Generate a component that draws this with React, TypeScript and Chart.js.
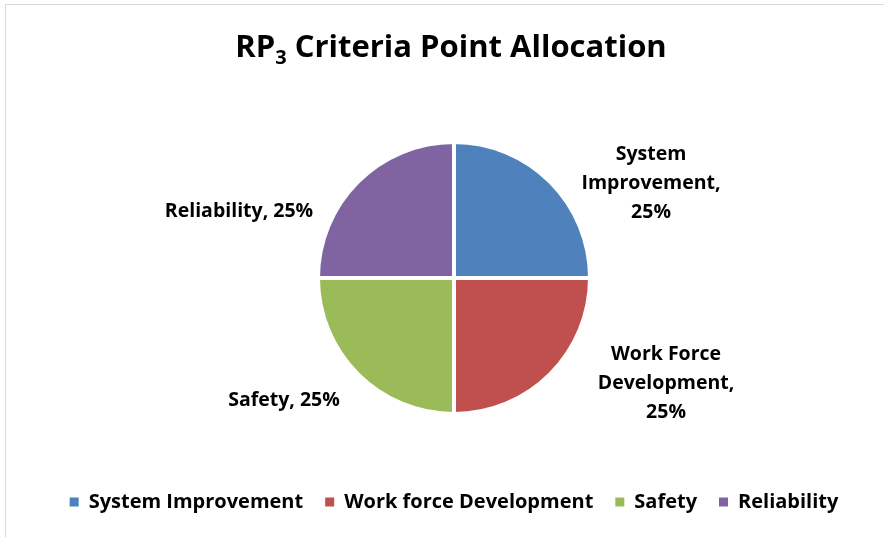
import React, { useEffect, useRef } from "react";
import { Chart, registerables } from "chart.js";

Chart.register(...registerables);

// ---- data ----
const categories = ["System Improvement", "Work force Development", "Safety", "Reliability"];
const labelNames = ["System Improvement", "Work Force Development", "Safety", "Reliability"];
const values = [25, 25, 25, 25];
const colors = ["#4F81BD", "#C0504D", "#9BBB59", "#8064A2"];
const titleMain = "RP";
const titleSub = "3";
const titleRest = " Criteria Point Allocation";

// ---- layout tweaks for outside labels (pixel nudges from the mid-angle anchor) ----
const labelNudges: [number, number][] = [
  [72, 30],
  [87, -20],
  [-45, -3],
  [-90, 58],
];

const FONT = "'Open Sans', Lato, 'DejaVu Sans', sans-serif";

function wrapText(ctx: CanvasRenderingContext2D, text: string, maxW: number): string[] {
  const words = text.split(" ");
  const lines: string[] = [];
  let cur = "";
  for (const w of words) {
    const t = cur ? cur + " " + w : w;
    if (cur && ctx.measureText(t).width > maxW) {
      lines.push(cur);
      cur = w;
    } else cur = t;
  }
  if (cur) lines.push(cur);
  return lines;
}

const titlePlugin = {
  id: "subTitle",
  afterDraw(chart: any) {
    const ctx: CanvasRenderingContext2D = chart.ctx;
    ctx.save();
    const big = `bold 31px ${FONT}`;
    const small = `bold 20px ${FONT}`;
    ctx.font = big;
    const w1 = ctx.measureText(titleMain).width;
    const w3 = ctx.measureText(titleRest).width;
    ctx.font = small;
    const w2 = ctx.measureText(titleSub).width;
    const total = w1 + w2 + w3;
    let x = chart.width / 2 + 9 - total / 2;
    const base = 57;
    ctx.fillStyle = "#000";
    ctx.textBaseline = "alphabetic";
    ctx.textAlign = "left";
    ctx.font = big;
    ctx.fillText(titleMain, x, base);
    x += w1;
    ctx.font = small;
    ctx.fillText(titleSub, x, base + 7);
    x += w2;
    ctx.font = big;
    ctx.fillText(titleRest, x, base);
    ctx.restore();
  },
};

const labelPlugin = {
  id: "outLabels",
  afterDatasetsDraw(chart: any) {
    const ctx: CanvasRenderingContext2D = chart.ctx;
    const meta = chart.getDatasetMeta(0);
    const data: number[] = chart.data.datasets[0].data;
    const sum = data.reduce((a, b) => a + b, 0);
    ctx.save();
    ctx.font = `bold 19.5px ${FONT}`;
    ctx.fillStyle = "#000";
    ctx.textAlign = "center";
    ctx.textBaseline = "middle";
    meta.data.forEach((arc: any, i: number) => {
      const p = arc.getProps(["x", "y", "startAngle", "endAngle", "outerRadius"], true);
      const mid = (p.startAngle + p.endAngle) / 2;
      const r = p.outerRadius * 1.3;
      const ax = p.x + Math.cos(mid) * r + labelNudges[i][0];
      const ay = p.y + Math.sin(mid) * r + labelNudges[i][1];
      const pct = Math.round((data[i] / sum) * 100);
      const text = `${labelNames[i]}, ${pct}%`;
      const lines = wrapText(ctx, text, 172);
      const lh = 29;
      const y0 = ay - ((lines.length - 1) * lh) / 2;
      lines.forEach((ln, k) => ctx.fillText(ln, ax, y0 + k * lh));
    });
    ctx.restore();
  },
};

export default function App() {
  const ref = useRef<HTMLCanvasElement | null>(null);
  useEffect(() => {
    if (!ref.current) return;
    const chart = new Chart(ref.current, {
      type: "pie",
      data: {
        labels: categories,
        datasets: [
          {
            data: values,
            backgroundColor: colors,
            borderColor: "#ffffff",
            borderWidth: 4,
            radius: 136,
          },
        ],
      },
      options: {
        responsive: false,
        animation: false,
        layout: { padding: { top: 86, left: 24, right: 0, bottom: 15 } },
        plugins: {
          title: { display: false },
          tooltip: { enabled: false },
          legend: {
            position: "bottom",
            labels: {
              boxWidth: 9,
              boxHeight: 9,
              padding: 22,
              color: "#000",
              font: { family: FONT, size: 20, weight: "bold" },
              generateLabels: (chart: any) =>
                Chart.overrides.pie.plugins.legend.labels
                  .generateLabels(chart)
                  .map((it: any) => ({ ...it, lineWidth: 0, strokeStyle: it.fillStyle })),
            },
          },
        },
      },
      plugins: [titlePlugin, labelPlugin],
    });
    return () => chart.destroy();
  }, []);
  return (
    <div style={{ position: "fixed", left: 0, top: 0, width: 884, height: 537, background: "#fff" }}>
      <canvas ref={ref} width={884} height={537} style={{ position: "absolute", left: 0, top: 0 }} />
      <div
        style={{
          position: "absolute",
          left: 5,
          top: 4,
          width: 1000,
          height: 1000,
          border: "1px solid #d9d9d9",
          pointerEvents: "none",
        }}
      />
    </div>
  );
}
